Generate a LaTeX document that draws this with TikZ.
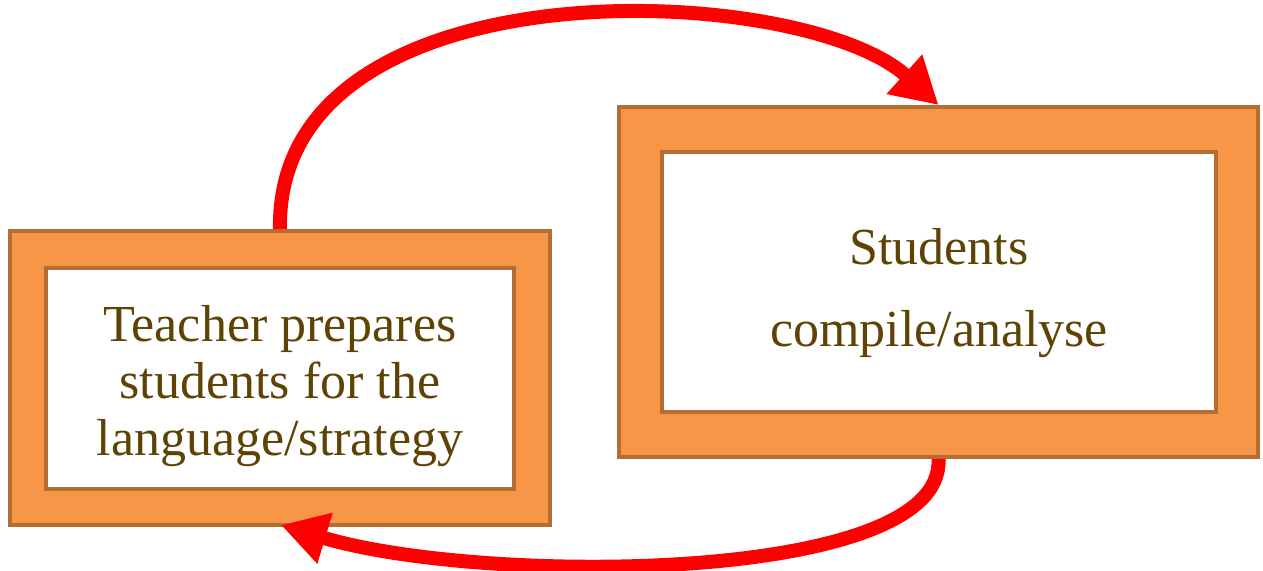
\documentclass[tikz,border=0pt]{standalone}
\usepackage{fontspec}
\setmainfont{Liberation Serif}
\usepackage{xcolor}
\usetikzlibrary{arrows.meta,positioning}

\definecolor{boxfill}{HTML}{F79646}
\definecolor{boxline}{HTML}{B66D31}
\definecolor{txtbrown}{RGB}{94,67,4}

\begin{document}
\begin{tikzpicture}[x=0.5pt, y=-0.5pt,
    outerbox/.style={draw=boxline, fill=boxfill, line width=2pt, inner sep=0pt},
    innerbox/.style={draw=boxline, fill=white, line width=2pt, inner sep=0pt},
    boxtext/.style={align=center, text=txtbrown, inner sep=0pt,
        font=\fontsize{26}{28.5}\selectfont},
    loop/.style={draw=red, line width=7pt, -{Triangle[length=23pt, width=25pt]}}]
    \useasboundingbox (0,0) rectangle (1263,570);

    % Teacher box
    \node[outerbox, minimum width=270pt, minimum height=147pt] (teachout) at (280,378) {};
    \node[innerbox, minimum width=234pt, minimum height=110.5pt] (teachin) at (280,378.5) {};
    \node[boxtext] (teachtext) at ([yshift=-4pt]teachin.center)
        {Teacher prepares\\students for the\\language/strategy};

    % Students box
    \node[outerbox, minimum width=319.5pt, minimum height=175pt] (stuout) at (938.5,282) {};
    \node[innerbox, minimum width=277pt, minimum height=130pt] (stuin) at (939,282) {};
    \node[boxtext] (stutext) at ([yshift=-5.5pt]stuin.center)
        {Students\\[12.5pt]compile/analyse};

    % Arrows
    \coordinate (backtip) at (281,525);
    \draw[loop] (teachout.north) .. controls (275,-40) and (800,-20) .. (stuout.north);
    \draw[loop] (stuout.south) .. controls (945,585) and (480,585) .. (backtip);
\end{tikzpicture}
\end{document}
